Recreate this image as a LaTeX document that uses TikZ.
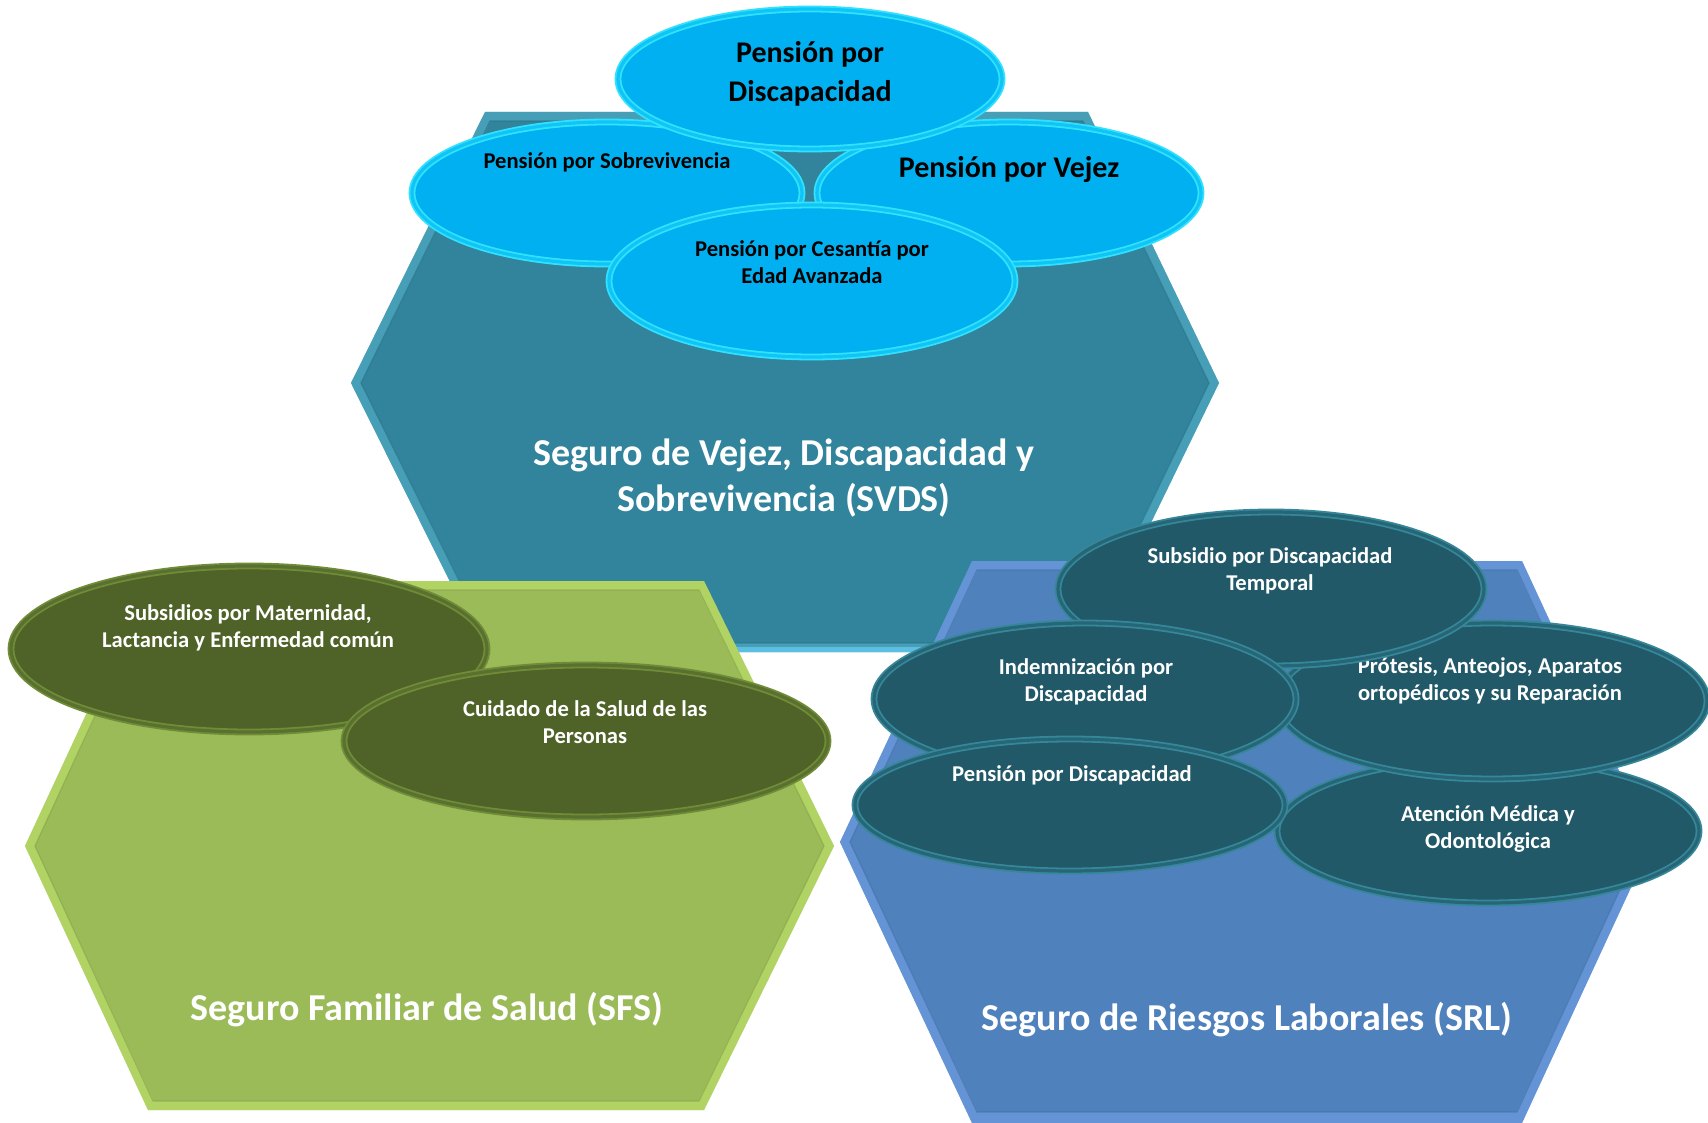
\documentclass[tikz,border=0pt]{standalone}
\usepackage{fontspec}
\setmainfont{Carlito}
\usetikzlibrary{shapes.geometric}
\definecolor{tealhex}{HTML}{31849B}
\definecolor{tealbev}{HTML}{5BBAD4}
\definecolor{greenhex}{HTML}{9BBB59}
\definecolor{greenbev}{HTML}{C8EC70}
\definecolor{bluehex}{HTML}{4F81BD}
\definecolor{bluebev}{HTML}{79A8EE}
\definecolor{cyanell}{HTML}{00B0F0}
\definecolor{cyanglow}{HTML}{30E2FF}
\definecolor{cyanring}{HTML}{10C4F6}
\definecolor{olivell}{HTML}{4F6228}
\definecolor{oliveedge}{HTML}{6F8C36}
\definecolor{oliveinner}{HTML}{5A7030}
\definecolor{darkell}{HTML}{215968}
\definecolor{darkedge}{HTML}{35879A}
\definecolor{darkinner}{HTML}{276676}
\begin{document}
\begin{tikzpicture}[x=0.5pt,y=-0.5pt,
  ellbase/.style={ellipse, inner sep=0pt, outer sep=0pt, line width=0.9pt, double distance=1.6pt},
  cyanE/.style={ellbase, fill=cyanell, draw=cyanglow, double=cyanring},
  oliveE/.style={ellbase, fill=olivell, draw=oliveedge, double=oliveinner},
  darkE/.style={ellbase, fill=darkell, draw=darkedge, double=darkinner},
  smalltxt/.style={font=\bfseries\fontsize{11.3}{13.5}\selectfont, align=center, inner sep=0pt},
  bigtxt/.style={font=\bfseries\fontsize{15}{19.5}\selectfont, align=center, inner sep=0pt, text=black},
  maintxt/.style={font=\bfseries\fontsize{19}{23}\selectfont, align=center, inner sep=0pt, text=white},
  bevel/.style={line width=9pt, draw opacity=0.5},
  bevelline/.style={line width=0.6pt, draw opacity=0.6}
]
\useasboundingbox (0,0) rectangle (1708,1123);
\fill[white] (0,0) rectangle (1708,1123);

% ---------- SVDS hexagon ----------
\fill[tealhex] (485,112) -- (1088,112) -- (1219,383) -- (1088,652) -- (485,652) -- (351,383) -- cycle;
\begin{scope}
  \clip (485,112) -- (1088,112) -- (1219,383) -- (1088,652) -- (485,652) -- (351,383) -- cycle;
  \draw[bevel, tealbev] (485,112) -- (1088,112) -- (1219,383) -- (1088,652) -- (485,652) -- (351,383) -- cycle;
  \draw[bevelline, tealhex!85!black] (490,121) -- (1083,121) -- (1209,383) -- (1083,643) -- (490,643) -- (361,383) -- cycle;
  \draw[line width=3pt, cyan!60!white, draw opacity=0.7] (485,650) -- (1088,650);
\end{scope}

% ---------- SFS hexagon ----------
\fill[greenhex] (148,581) -- (704,581) -- (834,846) -- (704,1110) -- (148,1110) -- (25,846) -- cycle;
\begin{scope}
  \clip (148,581) -- (704,581) -- (834,846) -- (704,1110) -- (148,1110) -- (25,846) -- cycle;
  \draw[bevel, greenbev] (148,581) -- (704,581) -- (834,846) -- (704,1110) -- (148,1110) -- (25,846) -- cycle;
  \draw[bevelline, greenhex!85!black] (153,590) -- (699,590) -- (824,846) -- (699,1101) -- (153,1101) -- (35,846) -- cycle;
\end{scope}

% ---------- SRL hexagon ----------
\fill[bluehex] (972,561) -- (1522,561) -- (1652,842) -- (1522,1123) -- (972,1123) -- (840,842) -- cycle;
\begin{scope}
  \clip (972,561) -- (1522,561) -- (1652,842) -- (1522,1123) -- (972,1123) -- (840,842) -- cycle;
  \draw[bevel, bluebev] (972,561) -- (1522,561) -- (1652,842) -- (1522,1121) -- (972,1121) -- (840,842) -- cycle;
  \draw[bevelline, bluehex!85!black] (977,570) -- (1517,570) -- (1642,842) -- (1517,1112) -- (977,1112) -- (850,842) -- cycle;
\end{scope}

% ---------- main labels ----------
\node[maintxt] (tSVDS) at (784,478) {Seguro de Vejez, Discapacidad y\\Sobrevivencia (SVDS)};
\node[maintxt] (tSFS) at (427,1010) {Seguro Familiar de Salud (SFS)};
\node[maintxt] (tSRL) at (1247,1020) {Seguro de Riesgos Laborales (SRL)};

% ---------- SVDS ellipses ----------
\node[cyanE, minimum width=195pt, minimum height=71pt] (eSob) at (607,193) {};
\node[smalltxt, text=black] (tSob) at (607,162) {Pensión por Sobrevivencia};
\node[cyanE, minimum width=192pt, minimum height=71pt] (eVej) at (1009,193) {};
\node[bigtxt] (tVej) at (1009,170) {Pensión por Vejez};
\node[cyanE, minimum width=192pt, minimum height=70pt] (eDis) at (810,79) {};
\node[bigtxt] (tDis) at (810,74) {Pensión por\\Discapacidad};
\node[cyanE, minimum width=203pt, minimum height=76pt] (eCes) at (812,281) {};
\node[smalltxt, text=black] (tCes) at (812,262) {Pensión por Cesantía por\\Edad Avanzada};

% ---------- SFS ellipses ----------
\node[oliveE, minimum width=238pt, minimum height=83pt] (eMat) at (249,649) {};
\node[smalltxt, text=white] (tMat) at (248,628) {Subsidios por Maternidad,\\Lactancia y Enfermedad común};
\node[oliveE, minimum width=242pt, minimum height=76pt] (eCui) at (586,741) {};
\node[smalltxt, text=white] (tCui) at (585,722) {Cuidado de la Salud de las\\Personas};

% ---------- SRL ellipses ----------
\node[darkE, minimum width=211pt, minimum height=72pt] (eAte) at (1488,831) {};
\node[smalltxt, text=white] (tAte) at (1488,829) {Atención Médica y\\Odontológica};
\node[darkE, minimum width=215pt, minimum height=78pt] (ePro) at (1492,701) {};
\node[smalltxt, text=white] (tPro) at (1490,681) {Prótesis, Anteojos, Aparatos\\ortopédicos y su Reparación};
\node[darkE, minimum width=213pt, minimum height=77pt] (eSub) at (1271,589) {};
\node[smalltxt, text=white] (tSub) at (1270,571) {Subsidio por Discapacidad\\Temporal};
\node[darkE, minimum width=211pt, minimum height=76pt] (eInd) at (1085,699) {};
\node[smalltxt, text=white] (tInd) at (1086,682) {Indemnización por\\Discapacidad};
\node[darkE, minimum width=215pt, minimum height=66pt] (ePen) at (1070,805) {};
\node[smalltxt, text=white] (tPen) at (1072,775) {Pensión por Discapacidad};
\end{tikzpicture}
\end{document}
